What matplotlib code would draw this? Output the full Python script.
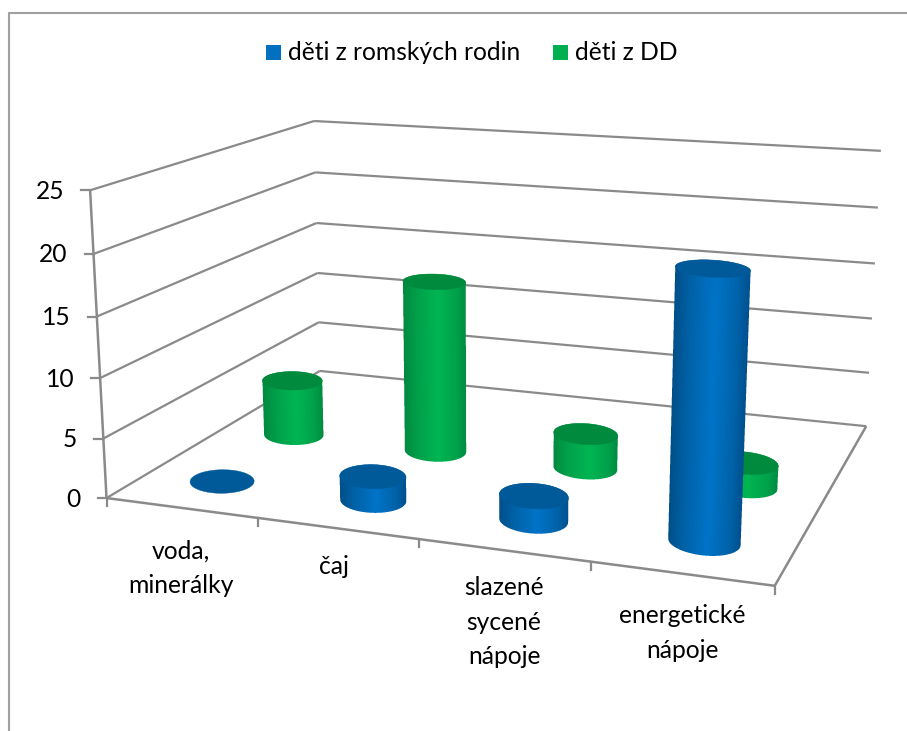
import numpy as np
import matplotlib
matplotlib.use('Agg')
import matplotlib.pyplot as plt
from matplotlib.colors import LinearSegmentedColormap
from matplotlib.patches import Polygon, Rectangle

# hodnoty grafu
categories = ['voda,\nminerálky', 'čaj', 'slazené\nsycené\nnápoje', 'energetické\nnápoje']
series_names = ['děti z romských rodin', 'děti z DD']
romske = [0, 2, 2, 21]
domov = [5, 15, 3, 2]
z_ticks = [0, 5, 10, 15, 20, 25]

BLUE = {'top': '#005a9a', 'legend': '#0070c0',
        'side': LinearSegmentedColormap.from_list('blue_side', [(0, '#004f88'), (0.22, '#0062a8'), (0.55, '#0074c8'), (0.85, '#0062a8'), (1, '#00508e')])}
GREEN = {'top': '#008a3e', 'legend': '#00b050',
         'side': LinearSegmentedColormap.from_list('green_side', [(0, '#008a40'), (0.22, '#00a04a'), (0.55, '#00b652'), (0.85, '#00a14a'), (1, '#008c42')])}
LINE = '#8a8a8a'
FONT = 'Lato'
FONT_SIZE = 17.7
SUPERSAMPLE = 4

# kalibrace kamery: (kategorie, hloubka, hodnota) -> pixel
world_pts = np.array([
    (0, 0, 0), (0, 0, 5), (0, 0, 10), (0, 0, 15), (0, 0, 20), (0, 0, 25),
    (0, 1, 0), (0, 1, 5), (0, 1, 10), (0, 1, 15), (0, 1, 20), (0, 1, 25),
    (4, 1, 0), (4, 1, 5), (4, 1, 10), (4, 1, 15), (4, 1, 20), (4, 1, 25),
    (1, 0, 0), (2, 0, 0), (3, 0, 0), (4, 0, 0)], dtype=float)
pixel_pts = np.array([
    (107, 497), (103, 438), (100, 378), (97, 315), (94, 254), (90, 191),
    (320, 371), (319, 323), (318, 273), (316, 223), (315, 172), (314, 121),
    (866, 426), (869, 372), (872, 318), (875, 264), (878, 208), (881, 151),
    (258, 519), (419, 541), (591, 563), (775, 584)], dtype=float)

# hloubka rad a rozmery valcu v souradnicich grafu
ROW_DEPTH = {'romske': 0.17, 'domov': 0.505}
RADIUS_X = 0.205
RADIUS_Y = 0.07
SHEAR = -0.5


def fit_camera(world, pixels):
    """Spocita projekcni matici 3x4 metodou nejmensich ctvercu"""
    rows, rhs = [], []
    for (x, y, z), (u, v) in zip(world, pixels):
        rows.append([x, y, z, 1, 0, 0, 0, 0, -u * x, -u * y, -u * z])
        rows.append([0, 0, 0, 0, x, y, z, 1, -v * x, -v * y, -v * z])
        rhs += [u, v]
    p = np.linalg.lstsq(np.array(rows), np.array(rhs), rcond=None)[0]
    return np.append(p, 1).reshape(3, 4)


CAMERA = fit_camera(world_pts, pixel_pts)


def project(x, y, z):
    """Promitne body grafu do roviny obrazku"""
    x, y, z = np.broadcast_arrays(x, y, z)
    pts = CAMERA @ np.stack([x, y, z, np.ones_like(x, dtype=float)])
    return pts[0] / pts[2], pts[1] / pts[2]


def line3d(ax, a, b, lw=1.6):
    xs, ys = project(np.array([a[0], b[0]], float), np.array([a[1], b[1]], float), np.array([a[2], b[2]], float))
    ax.plot(xs, ys, color=LINE, lw=lw, solid_capstyle='butt', zorder=2)


def arc(xs, ys, lower):
    """Vrati spodni nebo horni oblouk elipsy serazeny zleva doprava"""
    i0, i1 = np.argmin(xs), np.argmax(xs)
    n = len(xs) - 1
    if i1 < i0:
        i1 += n
    idx = np.arange(i0, i1 + 1) % n
    other = np.arange(i1, i0 + n + 1) % n
    first_low = ys[idx].mean() > ys[other].mean()
    chosen = idx if first_low == lower else other[::-1]
    return xs[chosen], ys[chosen]


def draw_side(ax, low_x, low_y, up_x, up_y, cmap):
    """Plast valce jako obrazek s barevnym prechodem, vyhlazeny podvzorkovanim"""
    xa, xb = int(min(low_x.min(), up_x.min())) - 1, int(max(low_x.max(), up_x.max())) + 2
    ya, yb = int(up_y.min()) - 1, int(low_y.max()) + 2
    s = SUPERSAMPLE
    gx = xa + (np.arange((xb - xa) * s) + 0.5) / s
    gy = ya + (np.arange((yb - ya) * s) + 0.5) / s
    xx, yy = np.meshgrid(gx, gy)

    # poloha napric plaste, okraje se mezi podstavami sbihaji
    t = (yy - low_y[0]) / (up_y[0] - low_y[0])
    left = low_x[0] + t * (up_x[0] - low_x[0])
    t = (yy - low_y[-1]) / (up_y[-1] - low_y[-1])
    right = low_x[-1] + t * (up_x[-1] - low_x[-1])
    u = (xx - left) / (right - left)

    low_u = (low_x - low_x[0]) / (low_x[-1] - low_x[0])
    up_u = (up_x - up_x[0]) / (up_x[-1] - up_x[0])
    inside = (u >= 0) & (u <= 1)
    inside &= yy <= np.interp(u, low_u, low_y)
    inside &= yy >= np.interp(u, up_u, up_y)

    rgba = cmap(np.clip(u, 0, 1))
    rgba[..., :3] *= inside[..., np.newaxis]
    rgba[..., 3] = inside
    h, w = yb - ya, xb - xa
    rgba = rgba.reshape(h, s, w, s, 4).mean(axis=(1, 3))
    alpha = rgba[..., 3:]
    rgba[..., :3] = np.divide(rgba[..., :3], alpha, out=np.zeros_like(rgba[..., :3]), where=alpha > 0)
    ax.imshow(rgba, extent=(xa, xb, yb, ya), origin='upper', interpolation='nearest', aspect='auto', zorder=3)


def draw_cylinder(ax, cat, depth, value, colors):
    theta = np.linspace(0, 2 * np.pi, 241)
    cx = cat + 0.5 + RADIUS_X * np.cos(theta) + SHEAR * RADIUS_Y * np.sin(theta)
    cy = depth + RADIUS_Y * np.sin(theta)
    bx, by = project(cx, cy, 0.0)
    tx, ty = project(cx, cy, float(value))

    if value > 0:
        low_x, low_y = arc(bx, by, True)
        up_x, up_y = arc(tx, ty, False)
        draw_side(ax, low_x, low_y, up_x, up_y, colors['side'])

    ax.add_patch(Polygon(np.column_stack([tx, ty]), closed=True, facecolor=colors['top'], edgecolor=colors['top'], lw=0.3, zorder=3))


def main():
    fig = plt.figure(figsize=(9.07, 7.31), dpi=100)
    ax = fig.add_axes([0, 0, 1, 1])
    ax.set_xlim(0, 907)
    ax.set_ylim(731, 0)
    ax.axis('off')

    # ramecek grafu
    ax.plot([8.5, 8.5, 907], [731, 13, 13], color='#a0a0a0', lw=1.5, zorder=1)

    # mrizka na stenach
    for z in z_ticks[1:]:
        line3d(ax, (0, 0, z), (0, 1, z))
        line3d(ax, (0, 1, z), (4, 1, z))
    # podlaha a osa hodnot
    line3d(ax, (0, 0, 0), (0, 1, 0))
    line3d(ax, (0, 1, 0), (4, 1, 0))
    line3d(ax, (0, 0, 0), (4, 0, 0), lw=1.8)
    line3d(ax, (4, 0, 0), (4, 1, 0), lw=1.8)
    line3d(ax, (0, 0, 0), (0, 0, 25), lw=1.8)

    # znacky a popisky osy hodnot
    for z in z_ticks:
        px, py = project(0.0, 0.0, float(z))
        ax.plot([px - 9, px], [py, py], color=LINE, lw=1.6, zorder=2)
        ax.text(px - 26, py + 1, str(z), ha='right', va='center', fontsize=FONT_SIZE, family=FONT, color='black')

    # znacky na ose kategorii
    for i in range(len(categories) + 1):
        px, py = project(float(i), 0.0, 0.0)
        ax.plot([px, px], [py, py + 8], color=LINE, lw=1.6, zorder=2)

    # popisky kategorii
    label_pos = [(181, 568), (334, 566), (504, 622), (682, 633)]
    for label, (lx, ly) in zip(categories, label_pos):
        ax.text(lx, ly, label, ha='center', va='center', fontsize=FONT_SIZE, family=FONT, color='black', linespacing=1.6)

    # valce: nejdriv zadni rada, potom predni
    for i, value in enumerate(domov):
        draw_cylinder(ax, i, ROW_DEPTH['domov'], value, GREEN)
    for i, value in enumerate(romske):
        draw_cylinder(ax, i, ROW_DEPTH['romske'], value, BLUE)

    # legenda
    ax.add_patch(Rectangle((266, 45), 15, 15, facecolor=BLUE['legend'], edgecolor='none'))
    ax.text(288, 53, series_names[0], ha='left', va='center', fontsize=FONT_SIZE, family=FONT, color='black')
    ax.add_patch(Rectangle((553, 45), 15, 15, facecolor=GREEN['legend'], edgecolor='none'))
    ax.text(575, 53, series_names[1], ha='left', va='center', fontsize=FONT_SIZE, family=FONT, color='black')

    fig.savefig('out.png', dpi=100, facecolor='white')
    plt.close(fig)


if __name__ == '__main__':
    main()
